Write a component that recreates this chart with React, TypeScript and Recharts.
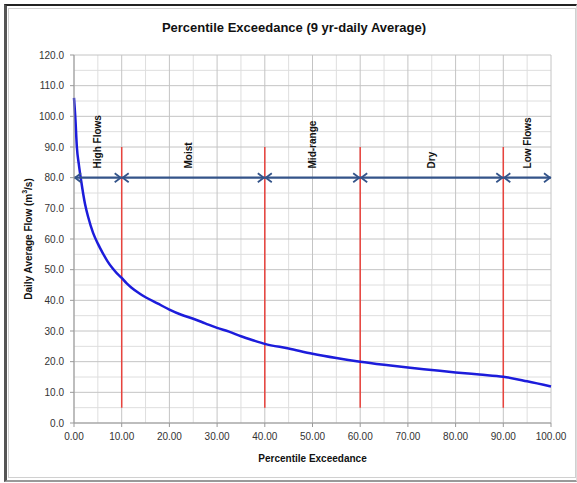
import React from 'react';
import {
  ComposedChart, Line, XAxis, YAxis, CartesianGrid, ReferenceLine, Scatter,
} from 'recharts';

// Percentile exceedance (x) and daily average flow (y)
const percentiles = [0, 0.3, 0.6, 1.0, 1.5, 2.3, 3.0, 4.0, 5.0, 6.0, 7.0, 8.0, 9.0, 10, 11, 12, 13.5, 15, 17.5, 20, 22.5, 25, 27.5, 30, 32.5, 35, 37.5, 40, 45, 50, 55, 60, 65, 70, 75, 80, 85, 90, 95, 100];
const flows = [106, 99, 90, 84.5, 79, 71.5, 67, 62, 58.5, 55.5, 52.8, 50.6, 48.8, 47.3, 45.6, 44.2, 42.5, 41, 39, 37, 35.3, 34, 32.5, 31, 29.8, 28.3, 27, 25.8, 24.3, 22.6, 21.2, 20, 19, 18.1, 17.3, 16.5, 15.8, 15.1, 13.6, 11.9];

const xTicks = [0, 10, 20, 30, 40, 50, 60, 70, 80, 90, 100];
const yTicks = [0, 10, 20, 30, 40, 50, 60, 70, 80, 90, 100, 110, 120];
const xMinor = [5, 15, 25, 35, 45, 55, 65, 75, 85, 95];
const yMinor = [5, 15, 25, 35, 45, 55, 65, 75, 85, 95, 105, 115];

// Regime boundaries and labels
const boundaries = [10, 40, 60, 90];
const boundaryLow = 5;
const boundaryHigh = 90;
const arrowLevel = 80;
const arrowStops = [0, 10, 40, 60, 90, 100];
const regimeNames = ['High Flows', 'Moist', 'Mid-range', 'Dry', 'Low Flows'];
const regimeLabelX = [5, 24, 50, 75, 95];
const regimeLabelY = 83;

const data = percentiles.map((p, i) => ({ p, flow: flows[i] }));
const labelData = regimeNames.map((name, i) => ({ p: regimeLabelX[i], v: regimeLabelY, name }));

const FONT = '"Liberation Sans", Arial, sans-serif';
const ARROW_COLOR = '#34548A';

const ArrowShape = (props: any) => {
  const { x1, y1, x2, y2 } = props;
  const h = 7;
  const w = 4.5;
  return (
    <g>
      <line x1={x1} y1={y1} x2={x2} y2={y2} stroke={ARROW_COLOR} strokeWidth={2.2} />
      <polyline points={`${x1 + h},${y1 - w} ${x1 + 1},${y1} ${x1 + h},${y1 + w}`} fill="none" stroke={ARROW_COLOR} strokeWidth={1.8} />
      <polyline points={`${x2 - h},${y2 - w} ${x2 - 1},${y2} ${x2 - h},${y2 + w}`} fill="none" stroke={ARROW_COLOR} strokeWidth={1.8} />
    </g>
  );
};

const LabelShape = (props: any) => {
  const { cx, cy, payload } = props;
  return (
    <text
      x={cx}
      y={cy}
      transform={`rotate(-90 ${cx} ${cy})`}
      textAnchor="start"
      dominantBaseline="central"
      fontSize={10}
      fontWeight="bold"
      fontFamily={FONT}
      fill="#111"
    >
      {payload.name}
    </text>
  );
};

const YTitle = (props: any) => {
  const vb = props.viewBox || { x: 0, y: 0, width: 0, height: 0 };
  const x = vb.x + 20;
  const y = vb.y + vb.height / 2;
  return (
    <text
      x={x}
      y={y}
      transform={`rotate(-90 ${x} ${y})`}
      textAnchor="middle"
      dominantBaseline="central"
      fontSize={10}
      fontWeight="bold"
      fontFamily={FONT}
      fill="#111"
    >
      Daily Average Flow (m<tspan fontSize={7} dy={-4}>3</tspan><tspan dy={4}>/s)</tspan>
    </text>
  );
};

export default function App() {
  return (
    <div style={{ position: 'absolute', left: 0, top: 0, width: 577, height: 483, background: '#fff', overflow: 'hidden' }}>
      <div style={{ position: 'absolute', left: 4, top: 4, width: 573, height: 478, boxSizing: 'border-box', borderTop: '2px solid #222', borderLeft: '3px solid #555', borderBottom: '2px solid #999', borderRight: '1px solid #ddd' }} />
      <div style={{ position: 'absolute', left: 8, top: 8, width: 568, height: 470, boxSizing: 'border-box', border: '1px solid #d0d0d0' }} />
      <div style={{ position: 'absolute', left: 0, top: 20, width: 588, textAlign: 'center', fontFamily: FONT, fontSize: 13, fontWeight: 'bold', color: '#111' }}>
        Percentile Exceedance (9 yr-daily Average)
      </div>
      <div style={{ position: 'absolute', left: 0, top: 0 }}>
        <ComposedChart width={577} height={483} data={data} margin={{ top: 55, right: 26, bottom: 40, left: 8 }}>
          <CartesianGrid horizontalValues={yMinor} verticalValues={xMinor} stroke="#dedede" strokeWidth={1} />
          <CartesianGrid horizontalValues={yTicks} verticalValues={xTicks} stroke="#c4c4c4" strokeWidth={1} />
          <XAxis
            dataKey="p"
            type="number"
            domain={[0, 100]}
            ticks={xTicks}
            interval={0}
            height={20}
            tickFormatter={(v: number) => v.toFixed(2)}
            tick={{ fontSize: 10, fill: '#333', fontFamily: FONT }}
            tickMargin={6}
            tickSize={4}
            stroke="#999"
            label={{ value: 'Percentile Exceedance', position: 'bottom', offset: 12, fontSize: 10, fontWeight: 'bold', fill: '#111', fontFamily: FONT }}
          />
          <YAxis
            type="number"
            domain={[0, 120]}
            ticks={yTicks}
            interval={0}
            width={66}
            tickFormatter={(v: number) => v.toFixed(1)}
            tick={{ fontSize: 10, fill: '#333', fontFamily: FONT }}
            tickMargin={6}
            tickSize={4}
            stroke="#999"
            label={<YTitle />}
          />
          {boundaries.map((b) => (
            <ReferenceLine
              key={`b${b}`}
              segment={[{ x: b, y: boundaryLow }, { x: b, y: boundaryHigh }]}
              stroke="#E8433D"
              strokeWidth={1.5}
            />
          ))}
          <Line
            dataKey="flow"
            type="monotone"
            stroke="#1C1CDB"
            strokeWidth={2.5}
            dot={false}
            isAnimationActive={false}
          />
          {arrowStops.slice(0, -1).map((s, i) => (
            <ReferenceLine
              key={`a${s}`}
              segment={[{ x: s, y: arrowLevel }, { x: arrowStops[i + 1], y: arrowLevel }]}
              shape={ArrowShape}
            />
          ))}
          <Scatter data={labelData} dataKey="v" shape={LabelShape} isAnimationActive={false} />
        </ComposedChart>
      </div>
    </div>
  );
}
